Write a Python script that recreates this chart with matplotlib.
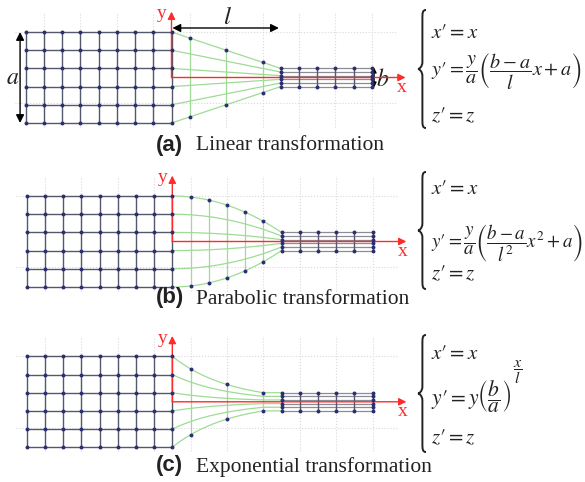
import numpy as np
import matplotlib
matplotlib.use('Agg')
import matplotlib.pyplot as plt
from matplotlib.path import Path
from matplotlib.patches import PathPatch

plt.rcParams['mathtext.fontset'] = 'stix'

# ---------------- data (grid units = one mesh cell) ----------------
A = 5.0            # height of the input mesh (a)
B = 1.0            # height of the output mesh (b)
L = 6.0            # length of the transition zone (l)
L_EXP = 5.0        # decay length observed in the exponential panel
LEFT_COLS = 8      # cells of the input mesh along x
NARROW_COLS = 5    # cells of the output mesh along x
ROW_LEVELS = [2.5, 1.5, 0.5, -0.5, -1.5, -2.5]
KINDS = ['linear', 'parabolic', 'exponential']
CAPTION_TAGS = ['(a)', '(b)', '(c)']
CAPTION_TEXTS = ['Linear transformation', 'Parabolic transformation',
                 'Exponential transformation']
GREEN_COLS = [[1, 3, 5], [1, 2, 3, 4, 5], [1, 3, 5]]
BG_VLINES = [-7, -5, -3, -1, 1, 3, 5, 7, 9, 11]
BG_HLINES = [2.5, -1.42]
PR = "\u2032"
EQ_X = ["$x" + PR + " = x$"] * 3
EQ_Y = ["$y" + PR + r" = \dfrac{y}{a}\left(\dfrac{b-a}{l}x + a\right)$",
        "$y" + PR + r" = \dfrac{y}{a}\left(\dfrac{b-a}{l^2}x^2 + a\right)$",
        "$y" + PR + r" = y\left(\dfrac{b}{a}\right)$"]
EQ_EXP = [None, None, r"$\dfrac{x}{l}$"]
EQ_Z = ["$z" + PR + " = z$"] * 3

# ---------------- layout ----------------
W, H = 585, 482
ORIGINS = [(171.5, 77.5), (172.3, 241.5), (172.3, 401.8)]
CELL = 18.2
EQ_ROWS = [(32, 72, 115), (188, 243, 273), (353, 397, 437)]
EQ_Y_SIZE = [14.5, 13.6, 15.5]
BRACES = [(10, 128), (172, 289), (335, 452)]
CAPTION_Y = [145, 298, 466]

GRID_C = '#55576a'
DOT_C = '#2b2f72'
GREEN_C = '#9edc96'
RED_C = '#ff2a2a'
BG_C = '#d9d9d9'
TXT_C = '#222222'


def scale(kind, x):
    x = np.asarray(x, dtype=float)
    if kind == 'linear':
        return 1 + (B - A) / (A * L) * x
    if kind == 'parabolic':
        return 1 + (B - A) / (A * L ** 2) * x ** 2
    return np.maximum((B / A) ** (x / L_EXP), B / A)


fig = plt.figure(figsize=(W / 100, H / 100), dpi=100)
fig.patch.set_facecolor('white')

for i, kind in enumerate(KINDS):
    ox, oy = ORIGINS[i]
    ax = fig.add_axes([0, 0, 1, 1])
    ax.set_xlim(-ox / CELL, (W - ox) / CELL)
    ax.set_ylim((oy - H) / CELL, oy / CELL)
    ax.axis('off')
    ax.patch.set_alpha(0)

    # background dotted grid
    for xv in BG_VLINES:
        ax.plot([xv, xv], [-2.7, 3.6], ls=':', color=BG_C, lw=0.8, zorder=0)
    for yh in BG_HLINES:
        ax.plot([-8.6, 12.4], [yh, yh], ls=':', color=BG_C, lw=0.8, zorder=0)

    # input mesh
    for y in ROW_LEVELS:
        ax.plot([-LEFT_COLS, 0], [y, y], color=GRID_C, lw=1.0, zorder=2)
    for xc in range(-LEFT_COLS, 1):
        ax.plot([xc, xc], [min(ROW_LEVELS), max(ROW_LEVELS)], color=GRID_C, lw=1.0, zorder=2)
    gx, gy = np.meshgrid(np.arange(-LEFT_COLS, 1), ROW_LEVELS)
    ax.scatter(gx.ravel(), gy.ravel(), s=8, color=DOT_C, zorder=5, linewidths=0)

    # transition zone
    xs = np.linspace(0, L, 300)
    for y in ROW_LEVELS:
        ax.plot(xs, y * scale(kind, xs), color=GREEN_C, lw=0.9, zorder=1)
    for xg in GREEN_COLS[i]:
        s = float(scale(kind, xg))
        ax.plot([xg, xg], [max(ROW_LEVELS) * s, min(ROW_LEVELS) * s], color=GREEN_C, lw=0.9, zorder=1)
        ax.scatter([xg, xg], [max(ROW_LEVELS) * s, min(ROW_LEVELS) * s], s=8,
                   color=DOT_C, zorder=5, linewidths=0)

    # output mesh
    yn = [y * B / A for y in ROW_LEVELS]
    for y in yn:
        ax.plot([L, L + NARROW_COLS], [y, y], color='#8c8c96', lw=0.9, zorder=2)
    for k in range(NARROW_COLS + 1):
        xc = L + k
        ax.plot([xc, xc], [min(yn), max(yn)], color=GRID_C, lw=1.0, zorder=2)
        if k in (0, NARROW_COLS):
            ax.scatter([xc] * len(yn), yn, s=8, color=DOT_C, zorder=5, linewidths=0)
        else:
            ax.scatter([xc, xc], [max(yn), min(yn)], s=8, color=DOT_C, zorder=5, linewidths=0)

    # red axes
    ap = dict(arrowstyle='-|>', color=RED_C, lw=1.0, mutation_scale=11, shrinkA=0, shrinkB=0)
    ax.annotate('', xy=(0, 3.62), xytext=(0, 0), arrowprops=ap, zorder=4)
    ax.annotate('', xy=(12.86, 0), xytext=(0, 0), arrowprops=ap, zorder=4)
    ax.text(-0.52, 3.5, 'y', color=RED_C, fontsize=14, family='Liberation Serif',
            ha='center', va='center', zorder=6)
    ax.text(12.65, -0.55, 'x', color=RED_C, fontsize=14, family='Liberation Serif',
            ha='center', va='center', zorder=6)

    if i == 0:
        bp = dict(arrowstyle='<|-|>', color='black', lw=1.0, mutation_scale=12,
                  shrinkA=0, shrinkB=0)
        ax.annotate('', xy=(-8.32, 2.5), xytext=(-8.32, -2.5), arrowprops=bp)
        ax.text(-8.75, 0, r'$a$', fontsize=17, ha='center', va='center', color=TXT_C)
        ax.annotate('', xy=(0.05, 2.72), xytext=(5.9, 2.72), arrowprops=bp)
        ax.text(3.05, 3.35, r'$l$', fontsize=18, ha='center', va='center', color=TXT_C)
        sp = dict(arrowstyle='<|-|>', color='black', lw=1.0, mutation_scale=7,
                  shrinkA=0, shrinkB=0)
        ax.annotate('', xy=(11.13, 0.55), xytext=(11.13, -0.55), arrowprops=sp)
        ax.text(11.62, -0.1, r'$b$', fontsize=17, ha='center', va='center', color=TXT_C)

# overlay in pixel units for equations and captions
ov = fig.add_axes([0, 0, 1, 1])
ov.set_xlim(0, W)
ov.set_ylim(H, 0)
ov.axis('off')
ov.patch.set_alpha(0)


def brace(ax, x, y0, y1, w=8):
    ym = (y0 + y1) / 2
    xm = x + w * 0.55
    xr = x + w
    verts = [(xr, y0), (xm, y0), (xm, y0 + 3), (xm, y0 + 9),
             (xm, ym - 7),
             (xm, ym - 2), (x + 1, ym), (x, ym),
             (x + 1, ym), (xm, ym + 2), (xm, ym + 7),
             (xm, y1 - 9),
             (xm, y1 - 3), (xm, y1), (xr, y1)]
    codes = [Path.MOVETO, Path.CURVE4, Path.CURVE4, Path.CURVE4,
             Path.LINETO,
             Path.CURVE4, Path.CURVE4, Path.CURVE4,
             Path.CURVE4, Path.CURVE4, Path.CURVE4,
             Path.LINETO,
             Path.CURVE4, Path.CURVE4, Path.CURVE4]
    ax.add_patch(PathPatch(Path(verts, codes), fill=False, lw=1.4, color=TXT_C))


for i in range(3):
    y0, y1 = BRACES[i]
    brace(ov, 418, y0, y1)
    rx, ry, rz = EQ_ROWS[i]
    ov.text(431, rx, EQ_X[i], fontsize=15, ha='left', va='center', color=TXT_C)
    ov.text(431, ry, EQ_Y[i], fontsize=EQ_Y_SIZE[i], ha='left', va='center', color=TXT_C)
    if EQ_EXP[i]:
        ov.text(513, ry - 25, EQ_EXP[i], fontsize=11.5, ha='left', va='center', color=TXT_C)
    ov.text(431, rz, EQ_Z[i], fontsize=15, ha='left', va='center', color=TXT_C)
    ov.text(156, CAPTION_Y[i], CAPTION_TAGS[i], fontsize=16, family='Liberation Sans',
            weight='bold', ha='left', va='center', color=TXT_C)
    ov.text(196, CAPTION_Y[i] + 1, CAPTION_TEXTS[i], fontsize=15.5, family='Liberation Serif',
            ha='left', va='center', color=TXT_C)

fig.savefig('out.png', dpi=100, facecolor='white')
